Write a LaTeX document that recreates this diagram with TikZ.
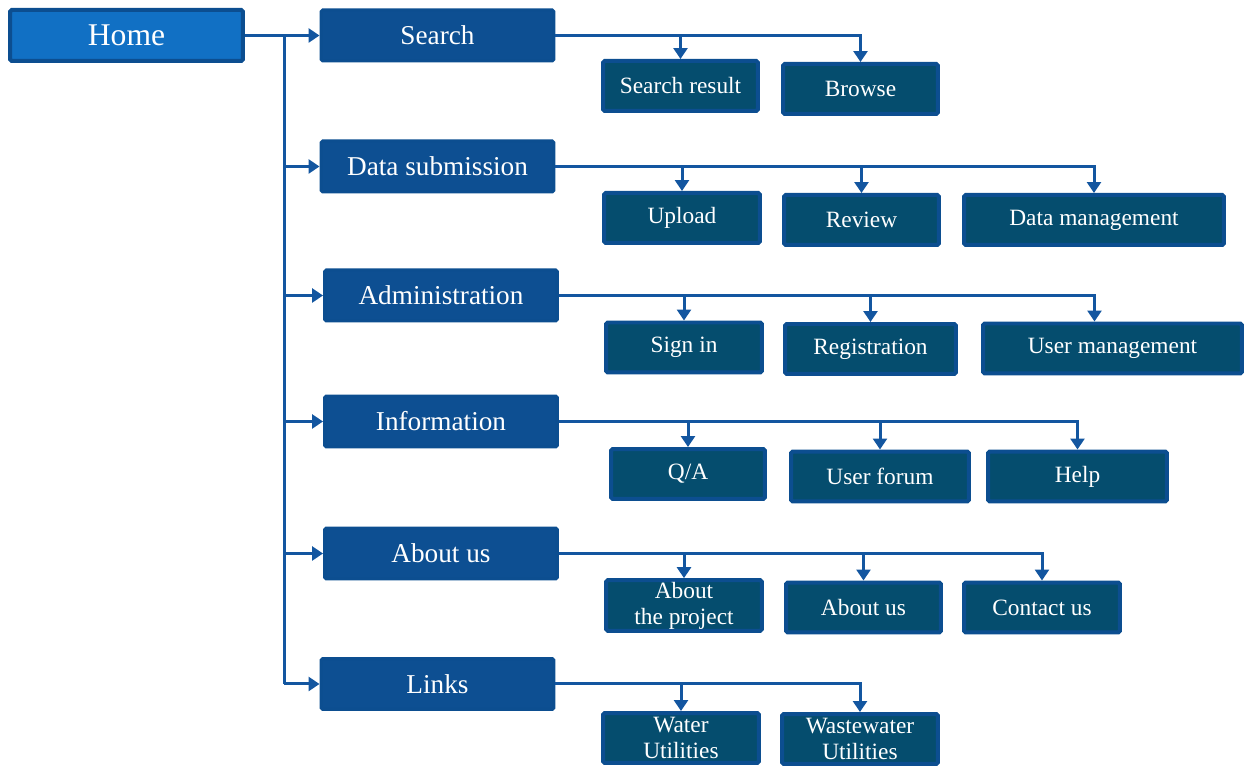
\documentclass[tikz,border=0pt]{standalone}
\usepackage{fontspec}
\setmainfont{Liberation Serif}
\usepackage{tikz}
\usetikzlibrary{arrows.meta}
\definecolor{HomeFill}{HTML}{1170C4}
\definecolor{EdgeBlue}{HTML}{0C4E90}
\definecolor{MainFill}{HTML}{0D4F92}
\definecolor{SubFill}{HTML}{054D6E}
\definecolor{LinkBlue}{HTML}{1356A0}

\begin{document}
\begin{tikzpicture}[x=0.02cm,y=-0.02cm,
  homebox/.style={draw=EdgeBlue,fill=HomeFill,line width=0.08cm,rounded corners=1pt,text=white,
    minimum width=4.66cm,minimum height=1.02cm,font=\fontsize{18}{20}\selectfont},
  mainbox/.style={draw=EdgeBlue,fill=MainFill,line width=0.06cm,rounded corners=1pt,text=white,
    minimum width=4.66cm,minimum height=1.02cm,font=\fontsize{15.5}{17}\selectfont},
  subbox/.style={draw=EdgeBlue,fill=SubFill,line width=0.08cm,rounded corners=1pt,text=white,
    minimum height=1.0cm,align=center,inner sep=1pt,font=\fontsize{13.3}{14.8}\selectfont},
  link/.style={LinkBlue,line width=0.06cm,-{Triangle[width=0.28cm,length=0.22cm]}}]
  \useasboundingbox (0,0) rectangle (1249,766);

  % top level
  \node[homebox] (home) at (126.5,35.5) {Home};
  \node[mainbox] (search) at (437.5,35.5) {Search};
  \node[mainbox] (datasub) at (437.5,166.5) {Data submission};
  \node[mainbox] (admin) at (441,295.5) {Administration};
  \node[mainbox] (info) at (441,421.5) {Information};
  \node[mainbox] (about) at (441,553.5) {About us};
  \node[mainbox] (links) at (437.5,684) {Links};

  % second level
  \foreach \nm/\cx/\cy/\bw/\txt in {
      sresult/680.5/86/3.1/Search result, browse/860.5/89/3.1/Browse,
      upload/682/218/3.12/Upload, review/861.5/220/3.1/Review, datamgmt/1094/220/5.2/Data management,
      signin/684/347.5/3.12/Sign in, regist/870.5/349/3.42/Registration, usermgmt/1112.5/348.5/5.18/User management,
      qa/688/474/3.08/{Q/A}, forum/880/476.5/3.56/User forum, help/1077.5/476.5/3.58/Help,
      aboutproj/684/605.5/3.12/{About\\the project}, aboutus/863.5/607.5/3.1/About us, contact/1042/607.5/3.12/Contact us,
      water/681/738/3.12/{Water\\Utilities}, waste/860/739/3.12/{Wastewater\\Utilities}}{
    \node[subbox,minimum width=\bw cm] (\nm) at (\cx,\cy) {\txt};
  }

  % trunk from home
  \coordinate (trunk) at (284,35.5);
  \draw[link] (home.east) -- (search.west);
  \draw[LinkBlue,line width=0.06cm] (trunk) -- (trunk |- links.west);
  \foreach \m in {datasub,admin,info,about,links}
    \draw[link] (trunk |- \m.west) -- (\m.west);

  % branches
  \foreach \p/\c/\dx in {search/sresult/0, search/browse/0,
      datasub/upload/0, datasub/review/0, datasub/datamgmt/0,
      admin/signin/0, admin/regist/0, admin/usermgmt/-0.36,
      info/qa/0, info/forum/0, info/help/0,
      about/aboutproj/0, about/aboutus/0, about/contact/0,
      links/water/0, links/waste/0}
    \draw[link] (\p.east) -| ([xshift=\dx cm]\c.north);
\end{tikzpicture}
\end{document}
